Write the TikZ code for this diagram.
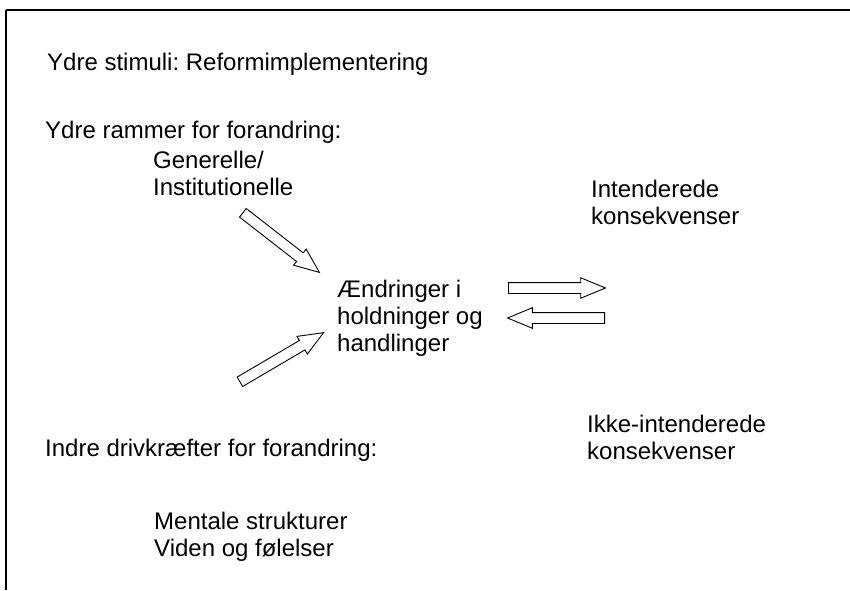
\documentclass[tikz,border=0pt]{standalone}
\usepackage{fontspec}
\setmainfont{Liberation Sans}
\usetikzlibrary{shapes.arrows}
\frenchspacing
\begin{document}
\begin{tikzpicture}[x=1pt,y=1pt,
  txt/.style={anchor=base west,inner sep=0pt,align=left,font=\fontsize{24}{27}\selectfont},
  blockarrow/.style={single arrow,draw,line width=0.9pt,fill=white,inner sep=5pt,
    minimum height=97pt,single arrow head extend=4.8pt,single arrow tip angle=45,anchor=tail}]
\useasboundingbox (0,0) rectangle (850,590);
\coordinate (tl) at (6,580);
\coordinate (tr) at (850,580);
\coordinate (bl) at (6,0);
\draw[line width=1.6pt] (tr) -- (tl);
\draw[line width=1.2pt] (tl) -- (bl);
\node[txt] (stim) at (47,519.5) {Ydre stimuli: Reformimplementering};
\node[txt] (ramme) at (45,451) {Ydre rammer for forandring:};
\node[txt] (gen) at (153,395) {Generelle/\\Institutionelle};
\node[txt] (int) at (591,366) {Intenderede\\konsekvenser};
\node[txt] (aend) at (337,239) {Ændringer i\\holdninger og\\handlinger};
\node[txt] (ikke) at (587,130.5) {Ikke-intenderede\\konsekvenser};
\node[txt] (indre) at (45,134) {Indre drivkræfter for forandring:};
\node[txt] (ment) at (154,33.5) {Mentale strukturer\\Viden og følelser};
\node[blockarrow,rotate=-37.9] (a1) at (242.5,377.5) {};
\node[blockarrow,rotate=30.4] (a2) at (239.5,208) {};
\node[blockarrow] (a3) at (508,302) {};
\node[blockarrow,rotate=180] (a4) at (605,272) {};
\end{tikzpicture}
\end{document}
